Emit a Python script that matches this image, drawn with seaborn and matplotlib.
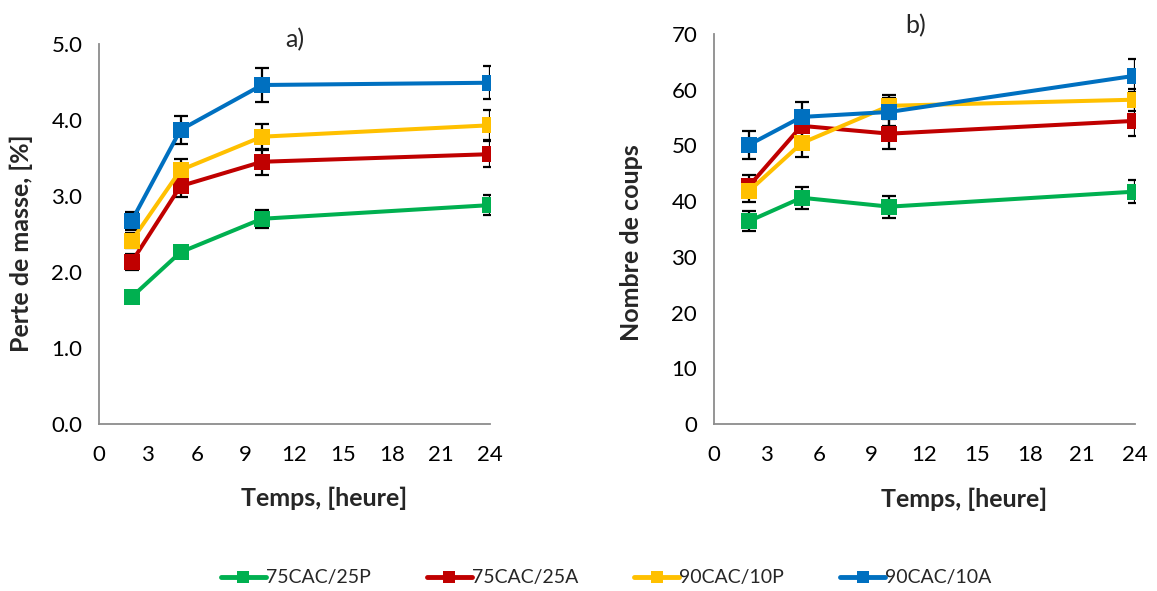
import pandas as pd
import matplotlib.pyplot as plt
import seaborn as sns

# Data
temps = [2, 5, 10, 24]
series = ["75CAC/25P", "75CAC/25A", "90CAC/10P", "90CAC/10A"]
colors = ["#00B050", "#C00000", "#FFC000", "#0070C0"]

perte = {
    "75CAC/25P": [1.67, 2.26, 2.70, 2.88],
    "75CAC/25A": [2.13, 3.13, 3.45, 3.55],
    "90CAC/10P": [2.41, 3.34, 3.78, 3.93],
    "90CAC/10A": [2.67, 3.87, 4.46, 4.49],
}
perte_err = {
    "75CAC/25P": [0.04, 0.08, 0.12, 0.13],
    "75CAC/25A": [0.10, 0.15, 0.17, 0.17],
    "90CAC/10P": [0.10, 0.15, 0.17, 0.20],
    "90CAC/10A": [0.12, 0.18, 0.22, 0.22],
}
coups = {
    "75CAC/25P": [36.4, 40.6, 39.0, 41.7],
    "75CAC/25A": [42.7, 53.5, 52.1, 54.4],
    "90CAC/10P": [41.8, 50.4, 57.1, 58.2],
    "90CAC/10A": [50.1, 55.1, 56.0, 62.5],
}
coups_err = {
    "75CAC/25P": [1.8, 2.0, 2.0, 2.0],
    "75CAC/25A": [2.0, 2.0, 2.7, 2.7],
    "90CAC/10P": [2.0, 2.5, 2.0, 2.0],
    "90CAC/10A": [2.5, 2.7, 2.5, 3.0],
}

rows = []
for s in series:
    for i, t in enumerate(temps):
        rows.append({"Temps": t, "Serie": s,
                     "Perte": perte[s][i], "PerteErr": perte_err[s][i],
                     "Coups": coups[s][i], "CoupsErr": coups_err[s][i]})
df = pd.DataFrame(rows)

sns.set_theme(style="white")
plt.rcParams["font.family"] = ["Lato", "DejaVu Sans"]
palette = dict(zip(series, colors))
axis_grey = "#8C8C8C"

fig = plt.figure(figsize=(11.57, 5.91), dpi=100)
ax1 = fig.add_axes([0.0856, 0.2826, 0.338, 0.643])
ax2 = fig.add_axes([0.617, 0.2826, 0.364, 0.660])


def draw(ax, col, errcol):
    for s in series:
        d = df[df["Serie"] == s]
        ax.errorbar(d["Temps"], d[col], yerr=d[errcol], fmt="none",
                    ecolor="black", elinewidth=1.6, capsize=5, capthick=1.6, zorder=2)
    sns.lineplot(data=df, x="Temps", y=col, hue="Serie", hue_order=series,
                 palette=palette, marker="s", markersize=11.5, markeredgewidth=0,
                 linewidth=2.9, ax=ax, legend=False, zorder=3)
    ax.set_xlim(0, 24)
    ax.set_xticks(range(0, 25, 3))
    for side in ["top", "right"]:
        ax.spines[side].set_visible(False)
    for side in ["left", "bottom"]:
        ax.spines[side].set_color(axis_grey)
        ax.spines[side].set_linewidth(1.3)
    ax.tick_params(axis="both", direction="out", length=6, width=1.3,
                   color=axis_grey, labelsize=16, labelcolor="black", pad=6)
    ax.tick_params(axis="x", pad=9)
    ax.set_xlabel("Temps, [heure]", fontsize=18, fontweight="bold")


draw(ax1, "Perte", "PerteErr")
ax1.set_ylim(0, 5)
ax1.set_yticks([0, 1, 2, 3, 4, 5])
ax1.set_yticklabels([f"{v:.1f}" for v in [0, 1, 2, 3, 4, 5]])
ax1.set_ylabel("Perte de masse, [%]", fontsize=18, fontweight="bold")
ax1.yaxis.set_label_coords(-0.169, 0.476)
ax1.xaxis.set_label_coords(0.575, -0.166)
ax1.text(0.50, 1.012, "a)", transform=ax1.transAxes, ha="center", va="center", fontsize=18)

draw(ax2, "Coups", "CoupsErr")
ax2.set_ylim(0, 70)
ax2.set_yticks(range(0, 71, 10))
ax2.set_ylabel("Nombre de coups", fontsize=18, fontweight="bold")
ax2.yaxis.set_label_coords(-0.169, 0.464)
ax2.xaxis.set_label_coords(0.594, -0.162)
ax2.text(0.48, 1.022, "b)", transform=ax2.transAxes, ha="center", va="center", fontsize=18)

handles = [plt.Line2D([], [], color=c, marker="s", markersize=8, linewidth=3.5,
                      markeredgewidth=0) for c in colors]
fig.legend(handles, series, loc="center", bbox_to_anchor=(0.524, 0.022), ncol=4,
           frameon=False, fontsize=14, handlelength=2.3, handletextpad=0.0,
           columnspacing=2.9)

fig.savefig("out.png", dpi=100)
